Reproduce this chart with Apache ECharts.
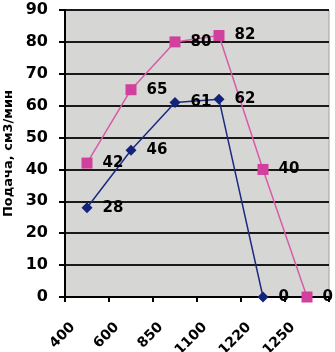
<!DOCTYPE html>
<html><head><meta charset="utf-8">
<script src="https://cdn.jsdelivr.net/npm/echarts@6/dist/echarts.min.js"></script>
<style>html,body{margin:0;padding:0;background:#fff}#c{width:335px;height:352px}</style>
</head><body><div id="c"></div>
<script>
const categories = ['400', '600', '850', '1100', '1220', '1250'];
const seriesPink = [42, 65, 80, 82, 40, 0];
const seriesBlue = [28, 46, 61, 62, 0, null];
const yTicks = {min: 0, max: 90, interval: 10};
const yName = 'Подача, см3/мин';

const FONT = 'DejaVu Sans';
const chart = echarts.init(document.getElementById('c'), null, {renderer: 'canvas'});
chart.setOption({
  animation: false,
  backgroundColor: '#ffffff',
  grid: {left: 65, right: 6, top: 10, bottom: 55, containLabel: false, outerBoundsMode: 'none', show: true, backgroundColor: '#d6d6d4', borderColor: '#a0a0a0', borderWidth: 1},
  xAxis: {
    type: 'category', data: categories, boundaryGap: true,
    axisLine: {lineStyle: {color: '#000', width: 2}},
    axisTick: {show: true, length: 5, lineStyle: {color: '#000', width: 2}},
    axisLabel: {rotate: 45, margin: 14, padding: [0, 20, 0, 0], color: '#000', fontFamily: FONT, fontWeight: 'bold', fontSize: 14}
  },
  yAxis: {
    type: 'value', min: yTicks.min, max: yTicks.max, interval: yTicks.interval,
    name: yName, nameLocation: 'middle', nameGap: 49,
    nameTextStyle: {color: '#000', fontFamily: FONT, fontWeight: 'bold', fontSize: 13},
    axisLine: {show: true, lineStyle: {color: '#000', width: 2}},
    axisTick: {show: true, length: 6, lineStyle: {color: '#000', width: 2}},
    splitLine: {lineStyle: {color: '#1a1a1a', width: 2}},
    axisLabel: {margin: 17, color: '#000', fontFamily: FONT, fontWeight: 'bold', fontSize: 16}
  },
  series: [
    {
      type: 'line', data: seriesPink, symbol: 'rect', symbolSize: 11,
      itemStyle: {color: '#d1409c'}, lineStyle: {color: '#d85aa8', width: 1.5},
      label: {show: true, position: 'right', distance: 10, color: '#000', fontFamily: FONT, fontWeight: 'bold', fontSize: 15}
    },
    {
      type: 'line', data: seriesBlue, symbol: 'diamond', symbolSize: 11,
      itemStyle: {color: '#14237a'}, lineStyle: {color: '#1d2a80', width: 1.5},
      label: {show: true, position: 'right', distance: 10, color: '#000', fontFamily: FONT, fontWeight: 'bold', fontSize: 15}
    }
  ]
});
</script></body></html>
